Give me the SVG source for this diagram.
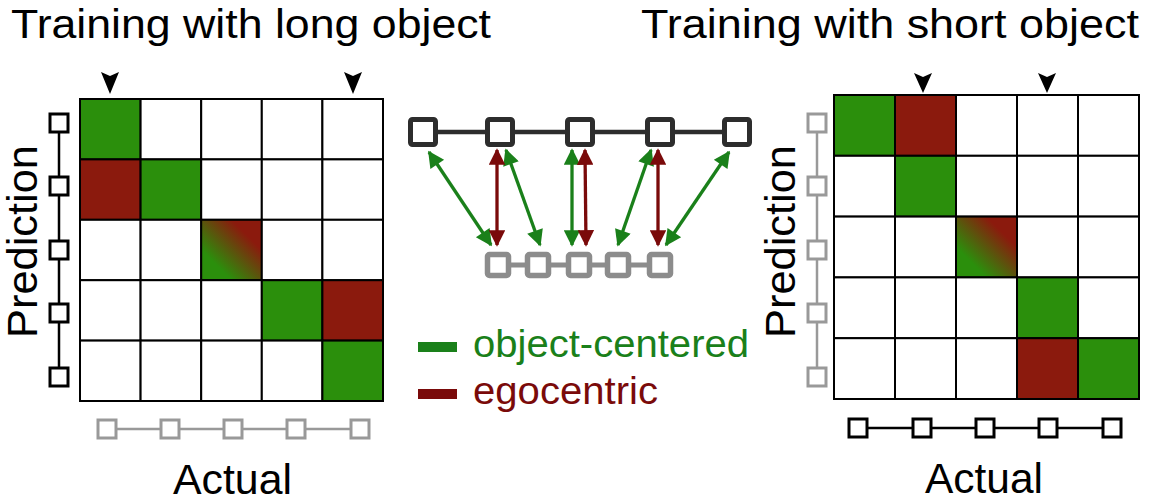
<svg xmlns="http://www.w3.org/2000/svg" width="1149" height="503" viewBox="0 0 1149 503">
<style>
text{font-family:"Liberation Sans",Arial,sans-serif;fill:#000}
.cell{fill:#fff;stroke:#000;stroke-width:2}
.g{fill:#2b8f0c}
.r{fill:#8b1a0d}
.sq{fill:#fff;stroke:#000;stroke-width:3}
.sqg{fill:#fff;stroke:#999;stroke-width:3}
.ax{stroke:#000;stroke-width:2.5;fill:none}
.axg{stroke:#999;stroke-width:2.5;fill:none}
.tri{fill:#000}
.ga{stroke:#1a801a;stroke-width:3.3;fill:none;marker-start:url(#hg);marker-end:url(#hg)}
.ra{stroke:#7a0a0a;stroke-width:3.3;fill:none;marker-start:url(#hr);marker-end:url(#hr)}
.top{fill:#fff;stroke:#2d2d2d;stroke-width:5}
.bot{fill:#fff;stroke:#8c8c8c;stroke-width:5.5}
</style>
<defs>
<linearGradient id="mix" x1="0" y1="1" x2="1" y2="0">
<stop offset="0.25" stop-color="#2b8f0c"/>
<stop offset="0.75" stop-color="#8b1a0d"/>
</linearGradient>
<marker id="hg" viewBox="0 0 10 10" refX="9" refY="5" markerWidth="6" markerHeight="5" orient="auto-start-reverse"><path d="M0,0 L10,5 L0,10 Z" fill="#1a801a"/></marker>
<marker id="hr" viewBox="0 0 10 10" refX="9" refY="5" markerWidth="6" markerHeight="5" orient="auto-start-reverse"><path d="M0,0 L10,5 L0,10 Z" fill="#7a0a0a"/></marker>
</defs>
<rect width="1149" height="503" fill="#fff"/>

<g id="title-left"><text x="11" y="38" font-size="41" textLength="480" lengthAdjust="spacingAndGlyphs">Training with long object</text></g>
<g id="title-right"><text x="641" y="38" font-size="41" textLength="498" lengthAdjust="spacingAndGlyphs">Training with short object</text></g>

<g id="matrix-left">
<rect class="cell g" x="80" y="99" width="60.6" height="60.4"/>
<rect class="cell" x="140.6" y="99" width="60.6" height="60.4"/>
<rect class="cell" x="201.2" y="99" width="60.6" height="60.4"/>
<rect class="cell" x="261.8" y="99" width="60.6" height="60.4"/>
<rect class="cell" x="322.4" y="99" width="60.6" height="60.4"/>
<rect class="cell r" x="80" y="159.4" width="60.6" height="60.4"/>
<rect class="cell g" x="140.6" y="159.4" width="60.6" height="60.4"/>
<rect class="cell" x="201.2" y="159.4" width="60.6" height="60.4"/>
<rect class="cell" x="261.8" y="159.4" width="60.6" height="60.4"/>
<rect class="cell" x="322.4" y="159.4" width="60.6" height="60.4"/>
<rect class="cell" x="80" y="219.8" width="60.6" height="60.4"/>
<rect class="cell" x="140.6" y="219.8" width="60.6" height="60.4"/>
<rect class="cell" x="201.2" y="219.8" width="60.6" height="60.4" style="fill:url(#mix)"/>
<rect class="cell" x="261.8" y="219.8" width="60.6" height="60.4"/>
<rect class="cell" x="322.4" y="219.8" width="60.6" height="60.4"/>
<rect class="cell" x="80" y="280.2" width="60.6" height="60.4"/>
<rect class="cell" x="140.6" y="280.2" width="60.6" height="60.4"/>
<rect class="cell" x="201.2" y="280.2" width="60.6" height="60.4"/>
<rect class="cell g" x="261.8" y="280.2" width="60.6" height="60.4"/>
<rect class="cell r" x="322.4" y="280.2" width="60.6" height="60.4"/>
<rect class="cell" x="80" y="340.6" width="60.6" height="60.4"/>
<rect class="cell" x="140.6" y="340.6" width="60.6" height="60.4"/>
<rect class="cell" x="201.2" y="340.6" width="60.6" height="60.4"/>
<rect class="cell" x="261.8" y="340.6" width="60.6" height="60.4"/>
<rect class="cell g" x="322.4" y="340.6" width="60.6" height="60.4"/>
<path class="tri" d="M101,72 L110,76 L119,72 L110,94 Z"/>
<path class="tri" d="M344,72 L353,76 L362,72 L353,94 Z"/>
</g>

<g id="axis-left-y">
<line class="ax" x1="59" y1="123" x2="59" y2="377"/>
<rect class="sq" x="50" y="114" width="18" height="18"/>
<rect class="sq" x="50" y="177" width="18" height="18"/>
<rect class="sq" x="50" y="241" width="18" height="18"/>
<rect class="sq" x="50" y="304" width="18" height="18"/>
<rect class="sq" x="50" y="368" width="18" height="18"/>
<text transform="translate(37,338) rotate(-90)" font-size="42" textLength="193" lengthAdjust="spacingAndGlyphs">Prediction</text>
</g>
<g id="axis-left-x">
<line class="axg" x1="107" y1="429" x2="360" y2="429"/>
<rect class="sqg" x="98" y="420" width="18" height="18"/>
<rect class="sqg" x="161" y="420" width="18" height="18"/>
<rect class="sqg" x="224" y="420" width="18" height="18"/>
<rect class="sqg" x="287" y="420" width="18" height="18"/>
<rect class="sqg" x="351" y="420" width="18" height="18"/>
<text x="173" y="494" font-size="43" textLength="119" lengthAdjust="spacingAndGlyphs">Actual</text>
</g>

<g id="matrix-right">
<rect class="cell g" x="834" y="95" width="61" height="60.8"/>
<rect class="cell r" x="895" y="95" width="61" height="60.8"/>
<rect class="cell" x="956" y="95" width="61" height="60.8"/>
<rect class="cell" x="1017" y="95" width="61" height="60.8"/>
<rect class="cell" x="1078" y="95" width="61" height="60.8"/>
<rect class="cell" x="834" y="155.8" width="61" height="60.8"/>
<rect class="cell g" x="895" y="155.8" width="61" height="60.8"/>
<rect class="cell" x="956" y="155.8" width="61" height="60.8"/>
<rect class="cell" x="1017" y="155.8" width="61" height="60.8"/>
<rect class="cell" x="1078" y="155.8" width="61" height="60.8"/>
<rect class="cell" x="834" y="216.6" width="61" height="60.8"/>
<rect class="cell" x="895" y="216.6" width="61" height="60.8"/>
<rect class="cell" x="956" y="216.6" width="61" height="60.8" style="fill:url(#mix)"/>
<rect class="cell" x="1017" y="216.6" width="61" height="60.8"/>
<rect class="cell" x="1078" y="216.6" width="61" height="60.8"/>
<rect class="cell" x="834" y="277.4" width="61" height="60.8"/>
<rect class="cell" x="895" y="277.4" width="61" height="60.8"/>
<rect class="cell" x="956" y="277.4" width="61" height="60.8"/>
<rect class="cell g" x="1017" y="277.4" width="61" height="60.8"/>
<rect class="cell" x="1078" y="277.4" width="61" height="60.8"/>
<rect class="cell" x="834" y="338.2" width="61" height="60.8"/>
<rect class="cell" x="895" y="338.2" width="61" height="60.8"/>
<rect class="cell" x="956" y="338.2" width="61" height="60.8"/>
<rect class="cell r" x="1017" y="338.2" width="61" height="60.8"/>
<rect class="cell g" x="1078" y="338.2" width="61" height="60.8"/>
<path class="tri" d="M914,73 L923,77 L932,73 L923,93 Z"/>
<path class="tri" d="M1038,73 L1047,77 L1056,73 L1047,93 Z"/>
</g>

<g id="axis-right-y">
<line class="axg" x1="817" y1="123" x2="817" y2="377"/>
<rect class="sqg" x="808" y="114" width="18" height="18"/>
<rect class="sqg" x="808" y="177" width="18" height="18"/>
<rect class="sqg" x="808" y="241" width="18" height="18"/>
<rect class="sqg" x="808" y="304" width="18" height="18"/>
<rect class="sqg" x="808" y="368" width="18" height="18"/>
<text transform="translate(795,338) rotate(-90)" font-size="42" textLength="193" lengthAdjust="spacingAndGlyphs">Prediction</text>
</g>
<g id="axis-right-x">
<line class="ax" x1="858" y1="428" x2="1112" y2="428"/>
<rect class="sq" x="849" y="419" width="18" height="18"/>
<rect class="sq" x="913" y="419" width="18" height="18"/>
<rect class="sq" x="976" y="419" width="18" height="18"/>
<rect class="sq" x="1039" y="419" width="18" height="18"/>
<rect class="sq" x="1103" y="419" width="18" height="18"/>
<text x="925" y="493" font-size="43" textLength="118" lengthAdjust="spacingAndGlyphs">Actual</text>
</g>

<g id="chain-top">
<line x1="423" y1="132" x2="737" y2="132" stroke="#2d2d2d" stroke-width="4.5"/>
<rect class="top" x="410.5" y="119.5" width="25" height="25" rx="2"/>
<rect class="top" x="487.5" y="119.5" width="25" height="25" rx="2"/>
<rect class="top" x="567.5" y="119.5" width="25" height="25" rx="2"/>
<rect class="top" x="647.5" y="119.5" width="25" height="25" rx="2"/>
<rect class="top" x="724.5" y="119.5" width="25" height="25" rx="2"/>
</g>
<g id="chain-bottom">
<line x1="498" y1="265" x2="660" y2="265" stroke="#8c8c8c" stroke-width="5"/>
<rect class="bot" x="487.5" y="254.5" width="21" height="21" rx="2"/>
<rect class="bot" x="527.5" y="254.5" width="21" height="21" rx="2"/>
<rect class="bot" x="568.5" y="254.5" width="21" height="21" rx="2"/>
<rect class="bot" x="607.5" y="254.5" width="21" height="21" rx="2"/>
<rect class="bot" x="649.5" y="254.5" width="21" height="21" rx="2"/>
</g>

<g id="connectors">
<line class="ga" x1="429" y1="152" x2="491" y2="245"/>
<line class="ga" x1="506" y1="150" x2="540" y2="245"/>
<line class="ga" x1="572" y1="150" x2="572" y2="245"/>
<line class="ga" x1="651" y1="150" x2="618" y2="245"/>
<line class="ga" x1="729" y1="152" x2="666" y2="245"/>
<line class="ra" x1="497" y1="150" x2="497" y2="245"/>
<line class="ra" x1="585" y1="150" x2="586" y2="245"/>
<line class="ra" x1="658" y1="150" x2="658" y2="245"/>
</g>

<g id="legend">
<rect x="418" y="342" width="39" height="10" fill="#1a801a"/>
<text x="473" y="357" font-size="38" textLength="276" lengthAdjust="spacingAndGlyphs" style="fill:#1a801a">object-centered</text>
<rect x="418" y="389" width="39" height="10" fill="#7a0a0a"/>
<text x="473" y="404" font-size="38" textLength="185" lengthAdjust="spacingAndGlyphs" style="fill:#7a0a0a">egocentric</text>
</g>
</svg>
